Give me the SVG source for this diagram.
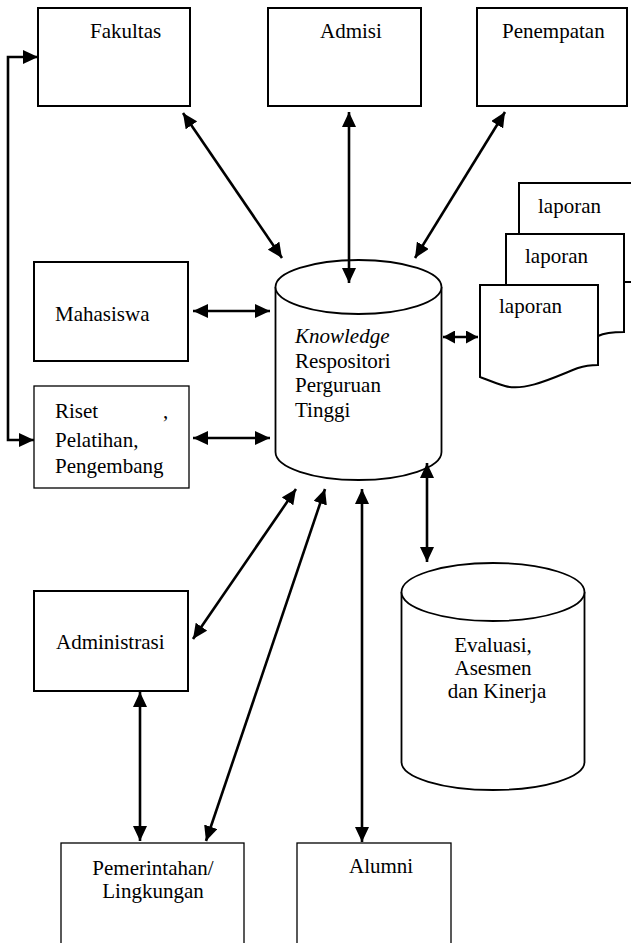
<svg xmlns="http://www.w3.org/2000/svg" width="631" height="943" viewBox="0 0 631 943">
<style>
  text { font-family: "Liberation Serif", "Times New Roman", serif; font-size: 21px; fill: #000; }
  .box { fill: #fff; stroke: #000; stroke-width: 2; }
  .thin { fill: #fff; stroke: #000; stroke-width: 1.3; }
  .cyl { fill: #fff; stroke: #000; stroke-width: 1.8; }
  .doc { fill: #fff; stroke: #000; stroke-width: 2; }
  .conn { fill: none; stroke: #000; stroke-width: 2.6; marker-start: url(#ah); marker-end: url(#ah); }
  .short { fill: none; stroke: #000; stroke-width: 2.6; marker-start: url(#ahs); marker-end: url(#ahs); }
</style>
<defs>
  <marker id="ah" markerUnits="userSpaceOnUse" markerWidth="16" markerHeight="14" refX="15" refY="7" orient="auto-start-reverse">
    <path d="M0,0 L15,7 L0,14 z" fill="#000"/>
  </marker>
  <marker id="ahs" markerUnits="userSpaceOnUse" markerWidth="13" markerHeight="13" refX="12" refY="6.5" orient="auto-start-reverse">
    <path d="M0,0 L12,6.5 L0,13 z" fill="#000"/>
  </marker>
</defs>
<rect width="631" height="943" fill="#fff"/>

<g id="fakultas">
  <rect class="box" x="38" y="8" width="152" height="98"/>
  <text x="90" y="38">Fakultas</text>
</g>
<g id="admisi">
  <rect class="box" x="268" y="8" width="153" height="98"/>
  <text x="320" y="38">Admisi</text>
</g>
<g id="penempatan">
  <rect class="box" x="477" y="8" width="150" height="98"/>
  <text x="502" y="38">Penempatan</text>
</g>
<g id="mahasiswa">
  <rect class="box" x="34" y="262" width="154" height="99"/>
  <text x="55" y="321">Mahasiswa</text>
</g>
<g id="riset">
  <rect class="thin" x="34" y="386" width="155" height="102"/>
  <text x="55" y="418">Riset</text>
  <text x="163" y="418">,</text>
  <text x="55" y="447">Pelatihan,</text>
  <text x="55" y="473">Pengembang</text>
</g>
<g id="knowledge">
  <path class="cyl" d="M275.5,287 L275.5,452 A83,28 0 0,0 441.5,452 L441.5,287"/>
  <ellipse class="cyl" cx="358.5" cy="287" rx="83" ry="27"/>
  <text x="295" y="343" font-style="italic">Knowledge</text>
  <text x="295" y="368">Respositori</text>
  <text x="295" y="392">Perguruan</text>
  <text x="295" y="417">Tinggi</text>
</g>
<g id="laporan3">
  <path class="doc" d="M519,183 L645,183 L645,282 L519,282 Z"/>
  <text x="538" y="213">laporan</text>
</g>
<g id="laporan2">
  <path class="doc" d="M506,234 L624,234 L624,332 C612,332 604,333 598,336 C575,345 545,342 530,336 C520,332 512,330 506,328 Z"/>
  <text x="525" y="263">laporan</text>
</g>
<g id="laporan1">
  <path class="doc" d="M480,285 L598,285 L598,365 C590,365 584,366 578,368 C555,377 525,392 505,386 C495,383 488,380 480,377 Z"/>
  <text x="499" y="313">laporan</text>
</g>
<g id="evaluasi">
  <path class="cyl" d="M401.5,592 L401.5,762 A91.5,28 0 0,0 584.5,762 L584.5,592"/>
  <ellipse class="cyl" cx="493" cy="592" rx="91.5" ry="29"/>
  <text x="493" y="652" text-anchor="middle">Evaluasi,</text>
  <text x="493" y="675" text-anchor="middle">Asesmen</text>
  <text x="497" y="698" text-anchor="middle">dan Kinerja</text>
</g>
<g id="administrasi">
  <rect class="box" x="34" y="591" width="154" height="100"/>
  <text x="56" y="649">Administrasi</text>
</g>
<g id="pemerintahan">
  <rect class="thin" x="61" y="843" width="183" height="110"/>
  <text x="153" y="875" text-anchor="middle">Pemerintahan/</text>
  <text x="153" y="898" text-anchor="middle">Lingkungan</text>
</g>
<g id="alumni">
  <rect class="thin" x="297" y="843" width="154" height="110"/>
  <text x="349" y="873">Alumni</text>
</g>

<g id="connectors">
  <path class="conn" d="M38,57 L8,57 L8,440 L34,440"/>
  <line class="conn" x1="183" y1="113" x2="282" y2="258"/>
  <line class="conn" x1="349" y1="112" x2="349" y2="283"/>
  <line class="conn" x1="505" y1="112" x2="415" y2="258"/>
  <line class="conn" x1="193" y1="311" x2="270" y2="311"/>
  <line class="conn" x1="193" y1="438" x2="270" y2="438"/>
  <line class="short" x1="443" y1="337" x2="478" y2="337"/>
  <line class="conn" x1="427" y1="463" x2="427" y2="562"/>
  <line class="conn" x1="193" y1="639" x2="296" y2="489"/>
  <line class="conn" x1="206" y1="841" x2="325" y2="489"/>
  <line class="conn" x1="362" y1="842" x2="362" y2="489"/>
  <line class="conn" x1="140" y1="692" x2="140" y2="841"/>
</g>
</svg>
